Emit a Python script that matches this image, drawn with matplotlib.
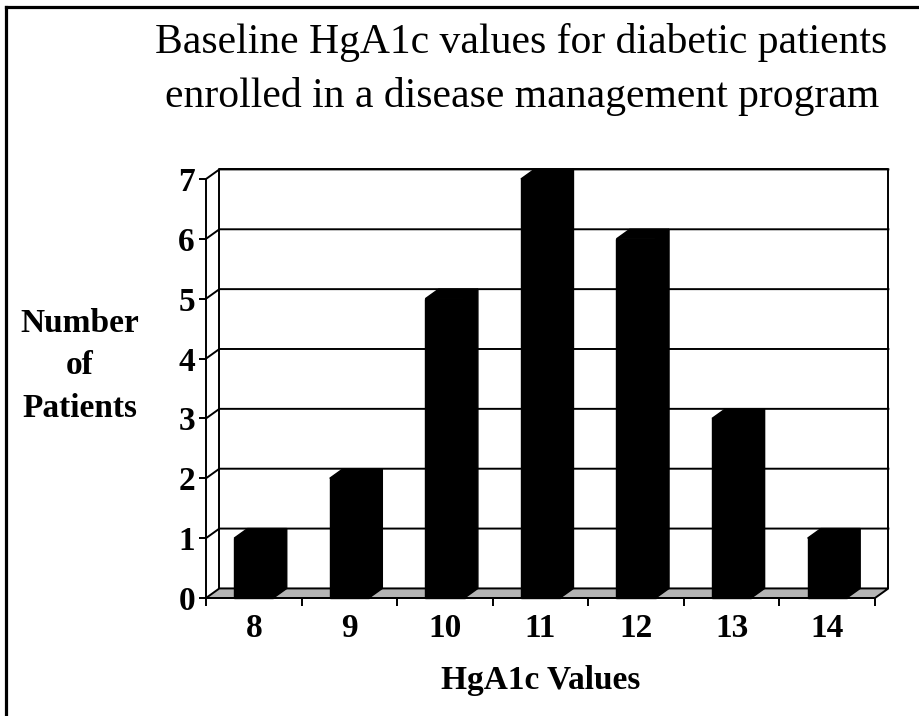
import matplotlib.pyplot as plt
from matplotlib.lines import Line2D
import numpy as np

# data
hga1c = ['8', '9', '10', '11', '12', '13', '14']
patients = [1, 2, 5, 7, 6, 3, 1]
yticks = [0, 1, 2, 3, 4, 5, 6, 7]

plt.rcParams['font.family'] = ['Liberation Serif', 'DejaVu Serif']

fig = plt.figure(figsize=(9.2, 7.16), dpi=100)
ax = fig.add_axes([206/920, 1 - 598/716, 669/920, 419/716])

n = len(hga1c)
ymax = 7
dx, dy = 0.14, 0.16          # depth offset of the 3d look, in data units
bw = 0.41
lw = 1.4
floor_col = '#b4b4b4'

ax.set_xlim(0, n)
ax.set_ylim(0, ymax)

# back wall + grid
ax.plot([dx, dx, n + dx, n + dx], [dy, ymax + dy, ymax + dy, dy], color='black', lw=lw, clip_on=False, zorder=1)
for v in yticks[1:]:
    ax.plot([0, dx, n + dx], [v, v + dy, v + dy], color='black', lw=lw, clip_on=False, zorder=1)

# floor
ax.fill([0, n, n + dx, dx], [0, 0, dy, dy], facecolor=floor_col, edgecolor='black', lw=lw, clip_on=False, zorder=2)

# bars: front face + top + side, all black
x = np.arange(n) + 0.5
ax.bar(x, patients, width=bw, color='black', edgecolor='black', lw=1, zorder=3, clip_on=False)
for xc, v in zip(x, patients):
    x0, x1 = xc - bw / 2, xc + bw / 2
    ax.fill([x0, x0 + dx, x1 + dx, x1], [v, v + dy, v + dy, v], facecolor='black', edgecolor='black', lw=1, zorder=3, clip_on=False)
    ax.fill([x1, x1 + dx, x1 + dx, x1], [0, dy, v + dy, v], facecolor='black', edgecolor='black', lw=1, zorder=3, clip_on=False)

for s in ['top', 'right']:
    ax.spines[s].set_visible(False)
for s in ['left', 'bottom']:
    ax.spines[s].set_linewidth(lw)
    ax.spines[s].set_zorder(4)

ax.set_yticks(yticks)
ax.set_yticklabels([str(t) for t in yticks], fontsize=24, fontweight='bold')
ax.tick_params(axis='y', length=5, width=lw, pad=3)

ax.set_xticks(np.arange(n + 1))
ax.set_xticklabels([])
ax.tick_params(axis='x', which='major', length=6, width=lw)
ax.set_xticks(x, minor=True)
ax.set_xticklabels(hga1c, minor=True, fontsize=24, fontweight='bold')
ax.tick_params(axis='x', which='minor', length=0, pad=11)

ax.set_xlabel('HgA1c Values', fontsize=24, fontweight='bold', labelpad=15)
fig.text(80/920, 1 - 366/716, 'Number\nof\nPatients', fontsize=24, fontweight='bold',
         ha='center', va='center', linespacing=1.47)

fig.text(521/920, 1 - 42/716, 'Baseline HgA1c values for diabetic patients', fontsize=30,
         ha='center', va='center')
fig.text(522/920, 1 - 97/716, 'enrolled in a disease management program', fontsize=30,
         ha='center', va='center')

# page border (left and top only)
fig.add_artist(Line2D([6.5/920, 6.5/920], [0, 1 - 7/716], color='black', lw=2.3))
fig.add_artist(Line2D([6.5/920, 1], [1 - 7/716, 1 - 7/716], color='black', lw=2.3))

fig.savefig('out.png', dpi=100)
